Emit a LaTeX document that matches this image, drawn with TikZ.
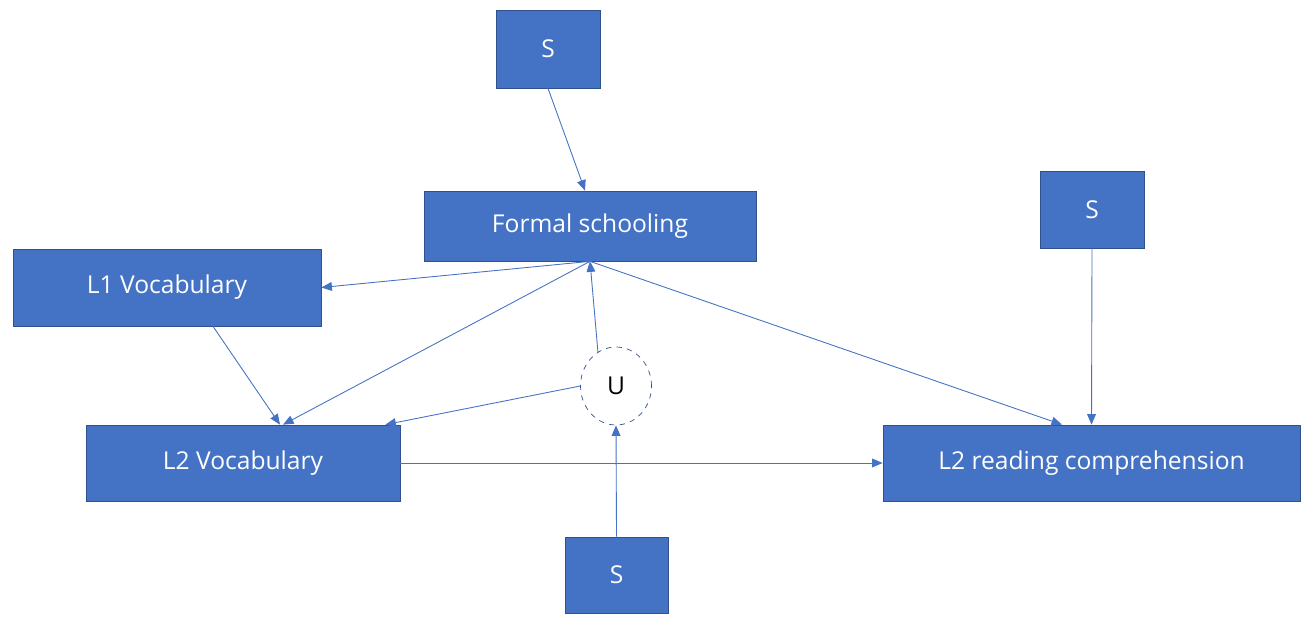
\documentclass[tikz,border=0pt]{standalone}
\usepackage{fontspec}
\setmainfont{Open Sans}
\usepackage{xcolor}
\usetikzlibrary{arrows.meta,shapes.geometric}
\definecolor{boxblue}{HTML}{4472C4}
\definecolor{boxedge}{HTML}{2F528F}

\tikzset{
  varbox/.style={draw=boxedge, fill=boxblue, text=white, text centered, font=\fontsize{14}{16}\selectfont},
  latent/.style={draw=boxedge, dashed, ellipse, fill=white, minimum width=1.42cm, minimum height=1.56cm, inner sep=0pt, font=\fontsize{14}{16}\selectfont},
  link/.style={draw=boxblue, line width=0.5pt, -{Triangle[length=6pt, width=5pt]}}
}

\begin{document}
\begin{tikzpicture}%
\useasboundingbox (0,0) rectangle (26.22,12.64);%
\node[varbox, minimum width=2.08cm, minimum height=1.56cm] (stop) at (10.96, 11.66) {S};%
\node[varbox, minimum width=6.64cm, minimum height=1.40cm] (fs) at (11.80, 8.12) {Formal schooling};%
\node[varbox, minimum width=2.08cm, minimum height=1.54cm] (sright) at (21.84, 8.45) {S};%
\node[varbox, minimum width=6.16cm, minimum height=1.54cm] (l1) at (3.34, 6.89) {L1 Vocabulary};%
\node[varbox, minimum width=6.28cm, minimum height=1.52cm] (l2v) at (4.86, 3.38) {L2 Vocabulary};%
\node[varbox, minimum width=8.34cm, minimum height=1.52cm] (l2r) at (21.83, 3.38) {L2 reading comprehension};%
\node[latent] (u) at (12.32, 4.92) {U};%
\node[varbox, minimum width=2.06cm, minimum height=1.52cm] (sbot) at (12.33, 1.14) {S};%
% connectors
\draw[link] (stop.south) -- ([xshift=-0.1cm]fs.north);%
\draw[link] (fs.south) -- (l1.east);%
\draw[link] (fs.south) -- ([xshift=0.8cm]l2v.north);%
\draw[link] (fs.south) -- ([xshift=-0.59cm]l2r.north);%
\draw[link] ([xshift=0.92cm]l1.south) -- ([xshift=0.74cm]l2v.north);%
\draw[link] (u.west) -- ([xshift=-0.3cm]l2v.north east);%
\draw[link] (u.118) -- (fs.south);%
\draw[link] (sbot.north) -- (u.south);%
\draw[link] (sright.south) -- (l2r.north);%
\draw[link] (l2v.east) -- (l2r.west);%
\end{tikzpicture}
\end{document}
